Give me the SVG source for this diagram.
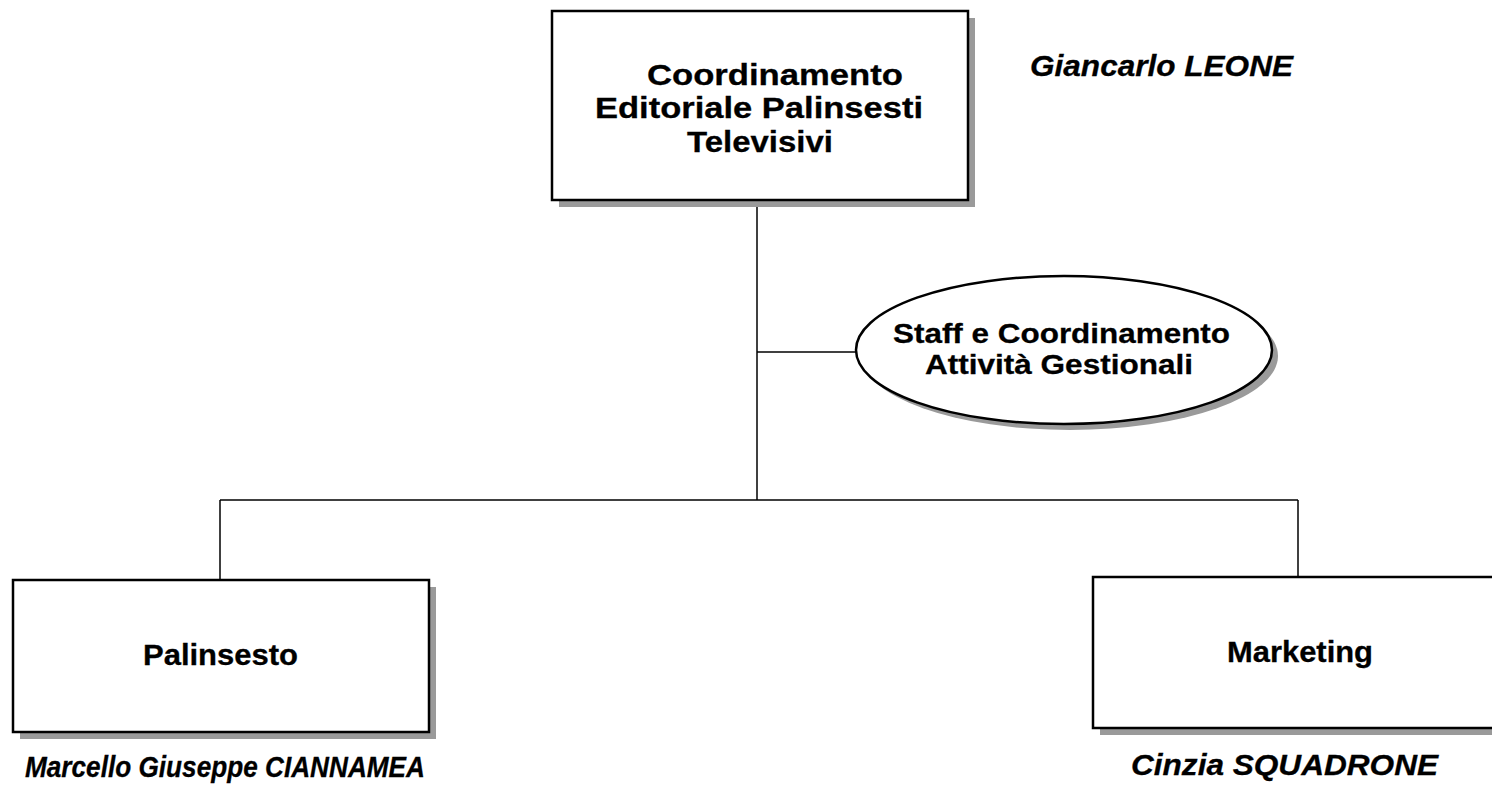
<svg xmlns="http://www.w3.org/2000/svg" width="1492" height="789" viewBox="0 0 1492 789">
<style>
.box{fill:#fff;stroke:#000;stroke-width:2.5}
.shadow{fill:#9a9a9a;stroke:none}
.conn{stroke:#000;stroke-width:1.5;fill:none}
.t{font-family:"Liberation Sans",Arial,sans-serif;font-weight:bold;fill:#000;stroke:#000;stroke-width:0.3}
.n{font-family:"Liberation Sans",Arial,sans-serif;font-weight:bold;font-style:italic;fill:#000;stroke:#000;stroke-width:0.3}
</style>
<rect width="1492" height="789" fill="#fff"/>
<g id="connectors">
<line class="conn" x1="757" y1="200" x2="757" y2="500"/>
<line class="conn" x1="757" y1="352" x2="856" y2="352"/>
<line class="conn" x1="220" y1="500" x2="1298" y2="500"/>
<line class="conn" x1="220" y1="500" x2="220" y2="580"/>
<line class="conn" x1="1298" y1="500" x2="1298" y2="577"/>
</g>
<g id="node-coordinamento">
<rect class="shadow" x="559" y="18" width="416" height="189"/>
<rect class="box" x="552" y="11" width="416" height="189"/>
<text class="t" font-size="30" x="647" y="85" textLength="256" lengthAdjust="spacingAndGlyphs">Coordinamento</text>
<text class="t" font-size="30" x="595" y="118" textLength="328" lengthAdjust="spacingAndGlyphs">Editoriale Palinsesti</text>
<text class="t" font-size="30" x="687" y="152" textLength="146" lengthAdjust="spacingAndGlyphs">Televisivi</text>
</g>
<g id="label-leone">
<text class="n" font-size="30" x="1030" y="76" textLength="263" lengthAdjust="spacingAndGlyphs">Giancarlo LEONE</text>
</g>
<g id="node-staff">
<ellipse class="shadow" cx="1070" cy="356" rx="208" ry="74"/>
<ellipse class="box" cx="1064" cy="350" rx="208" ry="74"/>
<text class="t" font-size="28" x="893" y="343" textLength="337" lengthAdjust="spacingAndGlyphs">Staff e Coordinamento</text>
<text class="t" font-size="28" x="925" y="374" textLength="268" lengthAdjust="spacingAndGlyphs">Attività Gestionali</text>
</g>
<g id="node-palinsesto">
<rect class="shadow" x="20" y="587" width="416" height="152"/>
<rect class="box" x="13" y="580" width="416" height="152"/>
<text class="t" font-size="30" x="143" y="665" textLength="155" lengthAdjust="spacingAndGlyphs">Palinsesto</text>
</g>
<g id="label-ciannamea">
<text class="n" font-size="29" x="25" y="777" textLength="400" lengthAdjust="spacingAndGlyphs">Marcello Giuseppe CIANNAMEA</text>
</g>
<g id="node-marketing">
<rect class="shadow" x="1100" y="584" width="420" height="151"/>
<rect class="box" x="1093" y="577" width="420" height="151"/>
<text class="t" font-size="30" x="1227" y="662" textLength="146" lengthAdjust="spacingAndGlyphs">Marketing</text>
</g>
<g id="label-squadrone">
<text class="n" font-size="29" x="1131" y="775" textLength="307" lengthAdjust="spacingAndGlyphs">Cinzia SQUADRONE</text>
</g>
</svg>
